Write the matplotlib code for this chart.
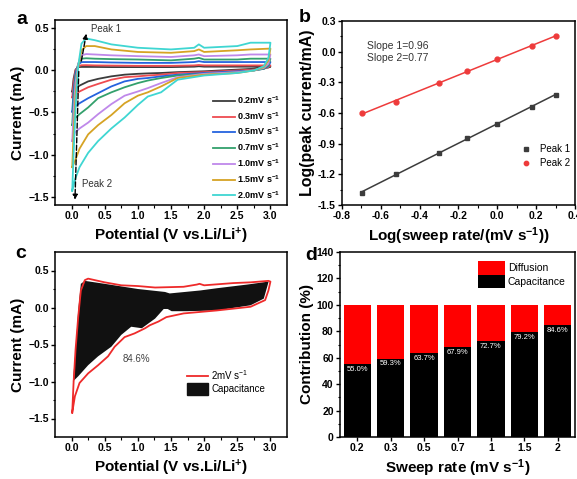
import numpy as np
import matplotlib
matplotlib.use("Agg")
import matplotlib.pyplot as plt
from matplotlib.patches import Patch
from matplotlib.lines import Line2D

plt.rcParams["font.family"] = ["Liberation Sans", "DejaVu Sans"]
plt.rcParams["mathtext.default"] = "regular"

# ---------------- CV curves at different sweep rates (panel a) ----------------
rates = ["0.2", "0.3", "0.5", "0.7", "1.0", "1.5", "2.0"]
cv_colors = ["#3c3c3c", "#ee4b50", "#2563de", "#33a06c", "#bf88ea", "#d6a324", "#3fd6d2"]

# anodic sweep (0.01 V -> 3.0 V)
up_v = [0.01, 0.03, 0.06, 0.10, 0.15, 0.22, 0.35, 0.60, 1.00, 1.50, 1.85, 1.92, 2.00, 2.50, 2.70, 3.00]
up_i = {
    "0.2": [-0.25, -0.10, 0.01, 0.040, 0.042, 0.042, 0.042, 0.040, 0.040, 0.040, 0.045, 0.050, 0.045, 0.045, 0.045, 0.045],
    "0.3": [-0.32, -0.15, 0.00, 0.050, 0.062, 0.063, 0.060, 0.058, 0.055, 0.055, 0.060, 0.065, 0.060, 0.060, 0.060, 0.060],
    "0.5": [-0.49, -0.25, -0.03, 0.07, 0.10, 0.10, 0.10, 0.095, 0.09, 0.09, 0.10, 0.11, 0.10, 0.10, 0.10, 0.10],
    "0.7": [-0.65, -0.35, -0.08, 0.08, 0.14, 0.145, 0.14, 0.135, 0.13, 0.12, 0.14, 0.15, 0.13, 0.13, 0.14, 0.14],
    "1.0": [-0.84, -0.50, -0.15, 0.08, 0.18, 0.195, 0.19, 0.18, 0.17, 0.16, 0.18, 0.19, 0.17, 0.18, 0.19, 0.19],
    "1.5": [-1.15, -0.75, -0.30, 0.05, 0.24, 0.29, 0.29, 0.25, 0.22, 0.21, 0.23, 0.25, 0.22, 0.24, 0.25, 0.26],
    "2.0": [-1.43, -1.00, -0.45, 0.05, 0.32, 0.38, 0.36, 0.31, 0.27, 0.25, 0.27, 0.31, 0.27, 0.29, 0.33, 0.33],
}

# cathodic sweep (3.0 V -> 0.01 V)
down_v = [3.00, 2.97, 2.90, 2.75, 2.50, 2.00, 1.60, 1.35, 1.15, 1.00, 0.80, 0.60, 0.40, 0.25, 0.12, 0.05, 0.01]
down_i = {
    "0.2": [0.045, 0.035, 0.03, 0.02, 0.01, -0.01, -0.02, -0.03, -0.035, -0.04, -0.05, -0.07, -0.10, -0.13, -0.18, -0.22, -0.25],
    "0.3": [0.06, 0.04, 0.02, 0.01, 0.00, -0.02, -0.03, -0.05, -0.06, -0.07, -0.08, -0.11, -0.16, -0.20, -0.25, -0.29, -0.32],
    "0.5": [0.10, 0.05, 0.02, 0.00, -0.01, -0.03, -0.05, -0.07, -0.09, -0.10, -0.13, -0.19, -0.27, -0.33, -0.39, -0.43, -0.49],
    "0.7": [0.14, 0.06, 0.02, 0.00, -0.02, -0.04, -0.06, -0.09, -0.12, -0.15, -0.20, -0.26, -0.33, -0.44, -0.52, -0.57, -0.65],
    "1.0": [0.19, 0.08, 0.03, 0.00, -0.02, -0.04, -0.08, -0.15, -0.21, -0.25, -0.30, -0.40, -0.52, -0.62, -0.69, -0.74, -0.84],
    "1.5": [0.26, 0.12, 0.04, 0.00, -0.03, -0.05, -0.09, -0.19, -0.26, -0.30, -0.39, -0.53, -0.65, -0.76, -0.93, -1.08, -1.15],
    "2.0": [0.33, 0.15, 0.05, 0.00, -0.03, -0.06, -0.11, -0.26, -0.31, -0.41, -0.56, -0.69, -0.84, -0.98, -1.15, -1.30, -1.43],
}

# ---------------- log(ip) vs log(v) (panel b) ----------------
log_rate = [-0.699, -0.523, -0.301, -0.155, 0.0, 0.176, 0.301]
log_peak1 = [-1.38, -1.20, -0.99, -0.84, -0.71, -0.54, -0.42]
log_peak2 = [-0.60, -0.49, -0.31, -0.19, -0.075, 0.06, 0.155]

# ---------------- capacitive separation at 2 mV/s (panel c) ----------------
c_up_v = [0.01, 0.03, 0.06, 0.10, 0.14, 0.20, 0.25, 0.50, 0.75, 1.00, 1.26, 1.69, 1.89, 1.93, 2.00, 2.44, 2.70, 2.97, 3.00]
c_up_i = [-1.42, -1.02, -0.57, -0.13, 0.23, 0.37, 0.39, 0.34, 0.30, 0.29, 0.27, 0.28, 0.31, 0.32, 0.30, 0.33, 0.34, 0.36, 0.35]
c_down_v = [3.00, 2.97, 2.92, 2.70, 2.19, 1.69, 1.43, 1.31, 1.18, 1.11, 0.95, 0.80, 0.65, 0.55, 0.40, 0.25, 0.12, 0.05, 0.01]
c_down_i = [0.35, 0.23, 0.10, 0.01, -0.04, -0.08, -0.13, -0.19, -0.24, -0.28, -0.35, -0.40, -0.53, -0.66, -0.78, -0.89, -1.02, -1.20, -1.42]

cap_up_v = [0.02, 0.06, 0.10, 0.14, 0.20, 0.50, 1.00, 1.41, 1.48, 1.94, 2.19, 2.65, 2.97]
cap_up_i = [-1.00, -0.57, -0.04, 0.32, 0.36, 0.32, 0.25, 0.21, 0.19, 0.23, 0.26, 0.31, 0.35]
cap_dn_v = [2.97, 2.90, 2.70, 2.19, 1.74, 1.51, 1.45, 1.39, 1.33, 1.26, 1.06, 0.90, 0.75, 0.60, 0.40, 0.25, 0.10, 0.02]
cap_dn_i = [0.34, 0.12, 0.03, -0.04, -0.05, -0.05, -0.02, -0.02, -0.08, -0.15, -0.28, -0.26, -0.37, -0.53, -0.66, -0.78, -0.93, -1.00]
cap_pct_label = "84.6%"

# ---------------- contribution ratios (panel d) ----------------
sweep_labels = ["0.2", "0.3", "0.5", "0.7", "1", "1.5", "2"]
capacitance = [55.0, 59.3, 63.7, 67.9, 72.7, 79.2, 84.6]
total = [100] * 7

W, H = 577, 479
LABEL_FS = 11
fig = plt.figure(figsize=(W / 100, H / 100), dpi=100)


def frame(px_left, px_top, px_right, px_bottom):
    return fig.add_axes([px_left / W, 1 - px_bottom / H, (px_right - px_left) / W, (px_bottom - px_top) / H])


def style(ax):
    for s in ax.spines.values():
        s.set_linewidth(1.1)
    ax.tick_params(which="major", length=3, width=1.0, labelsize=7.5, pad=1.5)
    ax.tick_params(which="minor", length=1.8, width=0.8)
    for lab in ax.get_xticklabels() + ax.get_yticklabels():
        lab.set_fontweight("bold")


# ---- a ----
ax = frame(55, 20, 287, 205)
for r, c in zip(rates, cv_colors):
    ax.plot(up_v + down_v, up_i[r] + down_i[r], color=c, lw=1.3, label=f"{r}mV s$^{{-1}}$")
ax.annotate("", xy=(0.23, 0.47), xytext=(0.14, 0.08),
            arrowprops=dict(arrowstyle="-|>", ls="--", lw=1.0, color="black", mutation_scale=7))
ax.annotate("", xy=(0.05, -1.57), xytext=(0.11, 0.02),
            arrowprops=dict(arrowstyle="-|>", ls="--", lw=1.0, color="black", mutation_scale=7))
ax.text(0.3, 0.49, "Peak 1", fontsize=7, color="#333333", va="center")
ax.text(0.16, -1.35, "Peak 2", fontsize=7, color="#333333", va="center")
ax.set_xlim(-0.25, 3.25)
ax.set_ylim(-1.6, 0.6)
ax.set_xticks(np.arange(0, 3.01, 0.5))
ax.set_yticks([-1.5, -1.0, -0.5, 0.0, 0.5])
ax.set_xticks(np.arange(0.25, 3.0, 0.5), minor=True)
ax.set_yticks([-1.25, -0.75, -0.25, 0.25], minor=True)
ax.set_xlabel("Potential (V vs.Li/Li$^{+}$)", fontsize=LABEL_FS, fontweight="bold", labelpad=3)
ax.set_ylabel("Current (mA)", fontsize=LABEL_FS, fontweight="bold", labelpad=2)
leg = ax.legend(loc="lower right", bbox_to_anchor=(1.0, -0.01), frameon=False, fontsize=6.5,
                handlelength=2.4, labelspacing=0.45, borderaxespad=0.3, handletextpad=0.3)
for t in leg.get_texts():
    t.set_fontweight("bold")
style(ax)
fig.text(16 / W, 1 - 19 / H, "a", fontsize=14, fontweight="bold", va="center")

# ---- b ----
bx = frame(342, 21, 575, 205)
for y, col, mk, lab in [(log_peak1, "#3c3c3c", "s", "Peak 1"), (log_peak2, "#ee3b3b", "o", "Peak 2")]:
    k, b0 = np.polyfit(log_rate, y, 1)
    xs = np.array([log_rate[0], log_rate[-1]])
    bx.plot(xs, k * xs + b0, color=col, lw=1.1)
    bx.plot(log_rate, y, mk, color=col, ms=3.5, label=lab, ls="none")
bx.text(-0.67, 0.06, "Slope 1=0.96", fontsize=7.5, color="#333333", va="center")
bx.text(-0.67, -0.06, "Slope 2=0.77", fontsize=7.5, color="#333333", va="center")
bx.set_xlim(-0.8, 0.4)
bx.set_ylim(-1.5, 0.3)
bx.set_xticks(np.arange(-0.8, 0.41, 0.2))
bx.set_xticklabels(["-0.8", "-0.6", "-0.4", "-0.2", "0.0", "0.2", "0.4"])
bx.set_yticks(np.arange(-1.5, 0.31, 0.3))
bx.set_yticklabels(["-1.5", "-1.2", "-0.9", "-0.6", "-0.3", "0.0", "0.3"])
bx.set_xticks(np.arange(-0.7, 0.4, 0.2), minor=True)
bx.set_yticks(np.arange(-1.35, 0.3, 0.3), minor=True)
bx.set_xlabel("Log(sweep rate/(mV s$^{-1}$))", fontsize=LABEL_FS, fontweight="bold", labelpad=3)
bx.set_ylabel("Log(peak current/mA)", fontsize=11.5, fontweight="bold", labelpad=2)
bx.legend(loc="center left", bbox_to_anchor=(0.71, 0.265), frameon=False, fontsize=7,
          handletextpad=0.4, labelspacing=0.4, markerscale=0.9)
style(bx)
fig.text(299 / W, 1 - 17 / H, "b", fontsize=14, fontweight="bold", va="center")

# ---- c ----
cx = frame(55, 252, 287, 437)
cx.fill(cap_up_v + cap_dn_v, cap_up_i + cap_dn_i, color="#111111", lw=0)
cx.plot(c_up_v + c_down_v, c_up_i + c_down_i, color="#ee2a2a", lw=1.3)
cx.text(0.98, -0.69, cap_pct_label, fontsize=7, color="#444444", ha="center", va="center")
cx.set_xlim(-0.25, 3.25)
cx.set_ylim(-1.75, 0.75)
cx.set_xticks(np.arange(0, 3.01, 0.5))
cx.set_yticks([-1.5, -1.0, -0.5, 0.0, 0.5])
cx.set_xticks(np.arange(0.25, 3.0, 0.5), minor=True)
cx.set_yticks([-1.25, -0.75, -0.25, 0.25], minor=True)
cx.set_xlabel("Potential (V vs.Li/Li$^{+}$)", fontsize=LABEL_FS, fontweight="bold", labelpad=3)
cx.set_ylabel("Current (mA)", fontsize=LABEL_FS, fontweight="bold", labelpad=2)
cx.legend(handles=[Line2D([], [], color="#ee2a2a", lw=1.3),
                   Patch(facecolor="#111111", edgecolor="#111111")],
          labels=["2mV s$^{-1}$", "Capacitance"],
          loc="center left", bbox_to_anchor=(0.53, 0.30), frameon=False, fontsize=7,
          handlelength=2.2, handleheight=1.4, labelspacing=0.1, handletextpad=0.3)
style(cx)
fig.text(15 / W, 1 - 253 / H, "c", fontsize=14, fontweight="bold", va="center")

# ---- d ----
dx = frame(340, 252, 575, 437)
pos = np.arange(len(sweep_labels))
dx.bar(pos, total, width=0.82, color="#ff0000", label="Diffusion")
dx.bar(pos, capacitance, width=0.82, color="black", label="Capacitance")
for p, v in zip(pos, capacitance):
    dx.text(p, v - 4, f"{v:.1f}%", color="white", fontsize=5.5, ha="center", va="center")
dx.set_xlim(-0.52, 6.52)
dx.set_ylim(0, 140)
dx.set_xticks(pos)
dx.set_xticklabels(sweep_labels)
dx.set_yticks(np.arange(0, 141, 20))
dx.set_yticks(np.arange(10, 140, 20), minor=True)
dx.set_xlabel("Sweep rate (mV s$^{-1}$)", fontsize=LABEL_FS, fontweight="bold", labelpad=3)
dx.set_ylabel("Contribution (%)", fontsize=LABEL_FS, fontweight="bold", labelpad=2)
dx.legend(loc="upper right", frameon=False, fontsize=7.5, handlelength=2.6, handleheight=1.6,
          labelspacing=0.0, handletextpad=0.3, borderaxespad=0.5)
style(dx)
fig.text(305 / W, 1 - 255 / H, "d", fontsize=14, fontweight="bold", va="center")

fig.savefig("out.png", dpi=100)
